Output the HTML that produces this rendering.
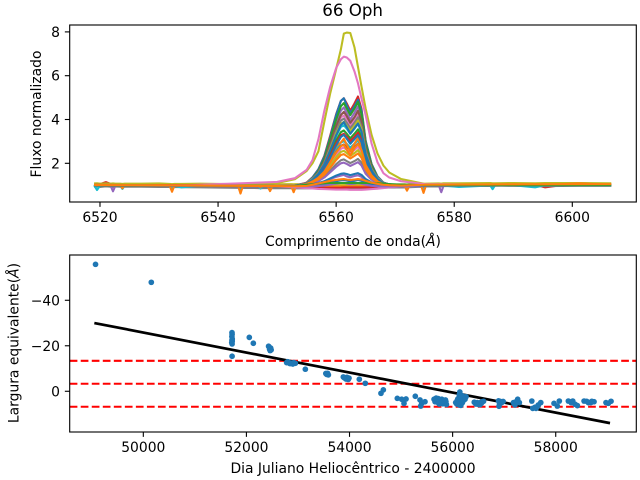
<!DOCTYPE html>
<html lang="pt">
<head>
<meta charset="utf-8">
<title>66 Oph</title>
<style>
html,body{margin:0;padding:0;background:#fff;width:640px;height:480px;overflow:hidden}
svg{display:block}
text{font-family:"DejaVu Sans","Liberation Sans",sans-serif;font-size:13.89px;fill:#000}
</style>
</head>
<body>
<svg id="figure" width="640" height="480" viewBox="0 0 640 480" xmlns="http://www.w3.org/2000/svg">
<defs>
<clipPath id="clip-top"><rect x="69.7" y="25" width="566.6" height="177"/></clipPath>
<clipPath id="clip-bottom"><rect x="69.7" y="255" width="566.6" height="177"/></clipPath>
</defs>
<rect x="0" y="0" width="640" height="480" fill="#fff"/>
<g id="spectra-layer" clip-path="url(#clip-top)"></g>
<g id="width-layer" clip-path="url(#clip-bottom)"></g>
<g id="axes-layer"></g>
<text x="352.6" y="16" text-anchor="middle" style="font-size:16.67px">66 Oph</text>
<text x="353" y="246" text-anchor="middle">Comprimento de onda(<tspan font-style="italic">Å</tspan>)</text>
<text transform="translate(41,114) rotate(-90)" text-anchor="middle">Fluxo normalizado</text>
<text x="353" y="473" text-anchor="middle">Dia Juliano Heliocêntrico - 2400000</text>
<text transform="translate(18.5,343) rotate(-90)" text-anchor="middle">Largura equivalente(<tspan font-style="italic">Å</tspan>)</text>
</svg>
<script>
// ---------- top chart data ----------
const topXTicks = [6520, 6540, 6560, 6580, 6600];
const topYTicks = [2, 4, 6, 8];
const lineWavelengths = [6519,6535,6550,6553,6555,6556,6557,6558,6559,6560,6560.8,6561.3,6561.8,6562.4,6563.1,6563.7,6564.3,6565,6566,6567,6568,6569,6571,6575,6590,6606.6];
const fluxOlivePeak = [1.0,1.0,1.1,1.27,1.65,2.0,2.55,3.9,5.2,6.3,7.2,7.92,7.97,7.95,7.3,6.4,5.5,4.5,3.3,2.45,1.9,1.58,1.28,1.06,1.03,1.02];
const fluxPinkPeak = [1.0,1.0,1.15,1.32,1.7,2.15,3.1,4.4,5.5,6.35,6.75,6.87,6.83,6.68,6.2,5.65,4.95,4.2,2.9,2.05,1.55,1.35,1.18,1.05,1.01,1.0];
const fluxRed505 = [1.0,0.99,0.97,0.98,1.12,1.36,1.73,2.34,3.27,4.24,4.85,4.97,4.73,4.4,4.73,5.05,4.48,3.03,1.97,1.4,1.12,1.04,0.99,1.0,1.01,1.0];
const fluxBlue497 = [1.0,0.98,0.96,0.97,1.1,1.35,1.72,2.3,3.2,4.2,4.85,4.97,4.65,4.3,4.6,4.9,4.4,3.0,1.95,1.4,1.12,1.04,0.98,0.99,1.0,1.01];
const fluxPurple460 = [1.01,0.99,0.97,0.98,1.1,1.3,1.62,2.15,3.0,3.9,4.4,4.55,4.3,4.0,4.3,4.6,4.1,2.8,1.85,1.35,1.1,1.03,0.99,1.0,1.0,1.0];
const fluxBrown440 = [0.99,0.97,0.95,0.96,1.1,1.28,1.6,2.1,2.9,3.7,4.2,4.35,4.15,3.85,4.1,4.4,3.9,2.7,1.8,1.3,1.1,1.03,0.98,0.99,1.0,1.0];
const fluxPink425 = [1.0,0.98,0.96,0.97,1.1,1.29,1.58,2.07,2.82,3.6,4.09,4.18,3.99,3.73,3.99,4.25,3.8,2.63,1.78,1.33,1.1,1.03,0.98,0.99,1.01,1.0];
const fluxGray410 = [0.98,0.97,0.94,0.95,1.09,1.28,1.56,2.02,2.74,3.48,3.95,4.04,3.85,3.6,3.85,4.1,3.67,2.55,1.74,1.31,1.09,1.03,0.97,0.98,0.99,0.99];
const fluxOlive395 = [1.01,0.98,0.96,0.97,1.09,1.27,1.53,1.97,2.65,3.36,3.8,3.89,3.71,3.48,3.71,3.95,3.54,2.48,1.71,1.3,1.09,1.03,0.99,1.0,1.01,1.01];
const fluxCyan380 = [1.0,0.98,0.95,0.96,1.08,1.25,1.5,1.92,2.57,3.24,3.66,3.74,3.58,3.35,3.58,3.8,3.41,2.4,1.67,1.28,1.08,1.03,0.98,0.99,1.0,1.0];
const fluxRed340 = [1.02,0.99,0.96,0.97,1.07,1.22,1.43,1.79,2.34,2.92,3.28,3.35,3.21,3.02,3.21,3.4,3.06,2.2,1.58,1.24,1.07,1.02,0.98,1.0,1.0,1.0];
const fluxCyan305 = [1.0,0.98,0.96,0.96,1.06,1.18,1.37,1.68,2.15,2.64,2.95,3.01,2.89,2.72,2.89,3.05,2.76,2.03,1.49,1.2,1.06,1.02,0.98,0.99,1.0,1.0];
const fluxBrown290 = [0.99,0.97,0.95,0.95,1.06,1.17,1.34,1.63,2.06,2.52,2.8,2.86,2.75,2.6,2.75,2.9,2.63,1.95,1.46,1.19,1.06,1.02,0.97,0.98,0.99,1.0];
const fluxPink275 = [1.0,0.98,0.96,0.96,1.05,1.16,1.32,1.58,1.98,2.4,2.66,2.72,2.61,2.47,2.61,2.75,2.5,1.88,1.42,1.18,1.05,1.02,0.98,0.99,1.0,1.0];
const fluxOlive260 = [1.01,0.98,0.96,0.97,1.05,1.14,1.29,1.53,1.9,2.28,2.52,2.57,2.47,2.34,2.47,2.6,2.38,1.8,1.38,1.16,1.05,1.02,0.98,0.99,1.0,1.0];
const fluxGray220 = [0.99,0.97,0.95,0.95,1.04,1.11,1.22,1.4,1.67,1.96,2.14,2.18,2.1,2.01,2.1,2.2,2.03,1.6,1.29,1.12,1.04,1.01,0.97,0.98,0.99,1.0];
const fluxPurple205 = [1.0,0.98,0.96,0.96,1.03,1.09,1.19,1.35,1.59,1.84,2.0,2.03,1.97,1.88,1.97,2.05,1.9,1.52,1.25,1.1,1.03,1.01,0.98,0.99,1.0,1.0];
const fluxPurple147 = [1.0,0.98,0.95,0.95,0.98,1.02,1.08,1.17,1.28,1.38,1.44,1.47,1.4,1.36,1.42,1.45,1.38,1.2,1.08,1.02,0.98,0.97,0.97,0.99,1.0,1.0];
const fluxBlue155 = [1.0,0.98,0.96,0.96,1.02,1.05,1.1,1.18,1.31,1.44,1.52,1.54,1.51,1.46,1.51,1.55,1.47,1.28,1.13,1.06,1.02,1.0,0.97,0.99,1.0,1.0];
const fluxBlue124 = [1.0,0.98,0.95,0.95,0.96,0.98,1.0,1.05,1.12,1.18,1.22,1.24,1.21,1.18,1.2,1.24,1.2,1.1,1.02,0.98,0.96,0.95,0.96,0.98,1.0,1.0];
const fluxPurple110 = [1.0,0.97,0.95,0.94,0.94,0.95,0.96,0.99,1.03,1.07,1.1,1.11,1.08,1.05,1.07,1.1,1.07,1.02,0.97,0.95,0.94,0.94,0.95,0.98,1.0,1.0];
const fluxRedLow = [1.0,0.97,0.95,0.93,0.91,0.9,0.89,0.88,0.88,0.88,0.89,0.9,0.9,0.9,0.9,0.9,0.9,0.9,0.9,0.91,0.92,0.93,0.95,0.98,1.0,1.0];
const fluxPinkLow = [1.0,0.97,0.94,0.91,0.87,0.85,0.83,0.82,0.81,0.8,0.8,0.8,0.8,0.79,0.79,0.79,0.79,0.8,0.82,0.84,0.87,0.9,0.94,0.98,1.0,1.0];
const fluxGreen480 = [1.0,0.98,0.96,0.97,1.1,1.3,1.65,2.2,3.1,4.0,4.6,4.75,4.5,4.2,4.5,4.8,4.25,2.9,1.9,1.35,1.1,1.04,1.03,1.0,1.0,1.0];
const fluxGreen355 = [1.0,0.98,0.96,0.97,1.07,1.23,1.46,1.84,2.43,3.04,3.42,3.5,3.35,3.14,3.35,3.55,3.19,2.28,1.61,1.26,1.08,1.03,1.0,0.99,1.0,1.0];
const fluxBlue390 = [1.0,0.98,0.96,0.97,1.08,1.25,1.52,1.95,2.6,3.28,3.75,3.88,3.65,3.35,3.6,3.82,3.45,2.42,1.68,1.28,1.08,1.03,0.98,0.99,1.0,1.0];
const fluxBlue330 = [1.0,0.98,0.96,0.96,1.07,1.2,1.4,1.74,2.26,2.82,3.2,3.3,3.12,2.89,3.1,3.28,2.96,2.13,1.54,1.22,1.07,1.02,0.98,0.99,1.0,1.0];
const fluxOrange310 = [1.0,0.98,0.96,0.96,1.06,1.2,1.38,1.7,2.2,2.78,2.95,3.12,2.85,2.55,2.9,3.15,2.8,2.05,1.5,1.2,1.06,1.02,0.98,1.0,1.01,1.01];
const fluxOrange285 = [1.0,0.98,0.96,0.95,1.06,1.17,1.34,1.62,2.05,2.5,2.78,2.84,2.62,2.35,2.7,2.88,2.6,1.92,1.45,1.18,1.05,1.02,0.98,1.0,1.01,1.01];
const fluxOrange245 = [1.0,0.98,0.96,0.95,1.04,1.14,1.27,1.48,1.8,2.15,2.38,2.42,2.33,2.22,2.34,2.45,2.25,1.72,1.34,1.14,1.04,1.01,0.98,1.0,1.01,1.01];
const fluxGreenLow = [1.0,0.98,0.96,0.97,1.02,1.04,1.07,1.09,1.1,1.1,1.1,1.1,1.1,1.1,1.1,1.1,1.1,1.1,1.1,1.09,1.07,1.05,1.02,1.0,1.0,1.0];
const fluxOrangeBase = [1.01,0.99,0.96,0.95,0.97,1.02,1.08,1.14,1.2,1.24,1.27,1.28,1.26,1.24,1.26,1.28,1.26,1.2,1.12,1.06,1.02,1.0,0.98,1.02,1.04,1.05];

const noiseWavelengths = [6519,6519.5,6520,6521,6521.8,6522.2,6522.6,6523.4,6523.8,6524.2,6527,6530,6531.8,6532.2,6532.6,6533.8,6537,6540,6543.4,6543.8,6544.2,6546.8,6547.2,6547.6,6548.4,6548.8,6549.2,6552.4,6552.8,6553.2,6560,6571.6,6572,6572.4,6574.4,6574.8,6575.2,6577.4,6577.8,6578.2,6580.8,6586.1,6586.5,6586.9,6590,6593.7,6595.4,6601,6606.6];
const noiseRed = [1.0,1.03,1.05,1.14,1.06,1.04,1.02,1.03,1.02,1.02,1.05,1.03,1.04,1.02,1.03,1.02,1.04,1.0,1.0,0.98,0.99,0.99,0.97,0.99,0.98,0.96,0.98,0.96,0.94,0.96,0.93,0.98,0.97,0.98,0.99,0.98,1.0,1.02,1.01,1.03,1.03,1.04,1.03,1.05,1.06,1.02,0.9,1.1,1.03];
const noiseGray = [0.93,0.94,0.92,0.95,0.93,0.92,0.94,0.93,0.91,0.93,0.93,0.92,0.92,0.9,0.92,0.91,0.9,0.89,0.88,0.87,0.88,0.87,0.86,0.87,0.87,0.85,0.87,0.86,0.84,0.86,0.85,0.9,0.88,0.91,0.93,0.91,0.94,0.95,0.94,0.96,0.96,0.97,0.96,0.98,0.97,0.96,0.96,0.97,0.97];
const noiseOlive = [1.08,1.09,1.07,1.08,1.07,1.08,1.07,1.07,1.06,1.07,1.07,1.08,1.06,1.05,1.06,1.06,1.07,1.06,1.05,1.04,1.05,1.04,1.04,1.04,1.04,1.03,1.04,1.05,1.04,1.05,1.0,1.04,1.03,1.05,1.07,1.06,1.07,1.08,1.07,1.09,1.09,1.1,1.09,1.09,1.1,1.09,1.1,1.1,1.09];
const noisePurple = [1.0,0.98,1.0,1.0,0.98,0.72,0.97,1.0,0.99,1.0,1.0,0.98,0.98,0.97,0.98,0.97,0.97,0.96,0.96,0.95,0.96,0.95,0.95,0.95,0.95,0.94,0.95,0.94,0.92,0.94,0.92,0.95,0.94,0.95,0.96,0.95,0.97,0.98,0.68,0.98,0.99,1.0,0.99,1.0,1.0,1.0,1.0,1.01,1.0];
const noiseCyan = [1.0,0.78,0.98,1.0,1.0,1.0,1.0,0.99,0.83,0.99,1.0,0.99,0.98,0.8,0.97,0.9,0.98,0.97,0.96,0.75,0.96,0.95,0.85,0.95,0.95,0.78,0.95,0.94,0.75,0.94,0.93,0.95,0.8,0.95,0.97,0.73,0.97,0.98,0.98,0.98,0.92,0.99,0.82,0.99,1.0,0.9,1.0,1.01,1.0];
const noiseOrange = [1.0,0.98,1.0,1.0,1.0,1.0,1.0,1.0,0.86,1.0,1.0,0.99,0.98,0.7,0.98,0.97,0.98,0.97,0.96,0.62,0.96,0.96,0.9,0.96,0.95,0.73,0.95,0.95,0.68,0.95,0.94,0.96,0.75,0.96,0.98,0.65,0.98,0.99,0.99,0.99,1.0,1.0,0.98,1.0,1.01,1.0,1.01,1.08,1.02];

const noiseSeries = [noiseRed, noiseGray, noiseOlive, noisePurple, noiseCyan, noiseOrange];
const noiseColors = ['#d62728','#7f7f7f','#bcbd22','#9467bd','#17becf','#ff7f0e'];
const spectraSeries = [fluxRedLow, fluxPinkLow, fluxOlivePeak, fluxPinkPeak, fluxRed505, fluxBlue497, fluxPurple460, fluxGreen480, fluxPink425, fluxBrown440, fluxGray410, fluxOlive395, fluxCyan380, fluxGreen355, fluxRed340, fluxCyan305, fluxBrown290, fluxPink275, fluxOlive260, fluxBlue390, fluxOrange310, fluxBlue330, fluxGray220, fluxPurple205, fluxOrange285, fluxOrange245, fluxPurple147, fluxBlue155, fluxBlue124, fluxPurple110, fluxGreenLow, fluxOrangeBase];
const spectraColors = ['#d62728','#e377c2','#bcbd22','#e377c2','#d62728','#1f77b4','#9467bd','#2ca02c','#e377c2','#8c564b','#7f7f7f','#bcbd22','#17becf','#2ca02c','#d62728','#17becf','#8c564b','#e377c2','#bcbd22','#1f77b4','#ff7f0e','#1f77b4','#7f7f7f','#9467bd','#ff7f0e','#ff7f0e','#9467bd','#1f77b4','#1f77b4','#9467bd','#2ca02c','#ff7f0e'];

// ---------- bottom chart data ----------
const bottomXTicks = [50000, 52000, 54000, 56000, 58000];
const bottomYTicks = [-40, -20, 0];
const thresholdLevels = [-13.4, -3.3, 6.8];
const fitDays = [49050, 59053];
const fitWidths = [-30, 14];
const pointDays = [49073,50155,51720,51722,51718,51725,51720,51724,51716,51722,51722,52056,52134,52440,52470,52450,52480,52460,52430,52780,52810,52840,52870,52900,52950,53143,53540,53560,53590,53880,53920,53960,53990,53930,54190,54306,54610,54656,54927,55012,55096,55057,55276,55367,55400,55464,55381,55640,55680,55700,55720,55750,55770,55790,55810,55830,55850,55870,55880,55740,56140,56130,56150,56120,56170,56200,56230,56260,56090,56110,56140,56170,56080,56130,56160,56190,56210,56100,56420,56450,56480,56510,56540,56570,56600,56530,56890,56920,56950,56900,56980,56910,57180,57210,57262,57294,57536,57554,57618,57663,57710,57967,58031,58070,58245,58330,58375,58420,58550,58633,58680,58743,58975,59020,59073,52800,52860,52920,53550,53575,53900,53950,53975,55660,55720,55800,55860,56060,56240,56190,56150,56100,56560,56480,57230,57600,57640,58300,58600,58700];
const pointWidths = [-55.8,-47.9,-25.8,-25,-24,-23,-22.5,-22,-21.4,-20.8,-15.4,-23.7,-21.1,-19.5,-19,-18.5,-18.2,-17.9,-19.8,-12.6,-12.9,-12.2,-12.4,-12,-12.3,-9.7,-7.8,-7.4,-7.2,-6.3,-5.9,-5.5,-5.8,-5.4,-5.3,-3.5,0.9,-0.6,3.1,3.5,3.4,5.3,2.2,3.8,5.3,4.6,6.5,3.5,3,4.5,3.2,4,5,3.5,5.5,4.2,5,4.6,5.8,5.6,0.3,1.5,2.5,3,3.5,3,2.6,2.4,4,4.5,5,4.5,5.6,6,6.2,5,4,3.4,4.8,5.6,5,5.8,5,4.6,4.4,5.9,4.2,4.4,5,6.6,4.5,5.5,5,6,3.5,5,4.3,7.5,7.5,6,5,5.3,6.5,4.3,4.3,4.3,5.7,6.3,4.3,5,5,4.6,5,5.3,4.4,-13,-12.2,-12.6,-7.6,-7.9,-5.9,-6.1,-5.2,4.6,5,4.6,3.8,5,3.5,2,1.8,5.4,5.2,5.6,4.6,7,6.8,5,4.4,4.4];

// ---------- axis functions ----------
const plotLeft = 69.7, plotRight = 636.3;
const topPlotTop = 25, topPlotBottom = 202;
const bottomPlotTop = 255, bottomPlotBottom = 432;
const topXMin = 6514.87, topXMax = 6610.84, topYMin = 0.233, topYMax = 8.315;
const bottomXMin = 48572, bottomXMax = 59563, bottomYTopValue = -59.9, bottomYBottomValue = 17.9;

function topX(v){ return plotLeft + (v - topXMin) / (topXMax - topXMin) * (plotRight - plotLeft); }
function topY(v){ return topPlotBottom - (v - topYMin) / (topYMax - topYMin) * (topPlotBottom - topPlotTop); }
function bottomX(v){ return plotLeft + (v - bottomXMin) / (bottomXMax - bottomXMin) * (plotRight - plotLeft); }
function bottomY(v){ return bottomPlotTop + (v - bottomYTopValue) / (bottomYBottomValue - bottomYTopValue) * (bottomPlotBottom - bottomPlotTop); }

const svgNS = 'http://www.w3.org/2000/svg';
function make(parent, tag, props){
  const el = document.createElementNS(svgNS, tag);
  for (const k in props) el.setAttribute(k, props[k]);
  parent.appendChild(el);
  return el;
}
function pointsFrom(xs, ys, fx, fy){
  return xs.map((x, i) => fx(x).toFixed(2) + ',' + fy(ys[i]).toFixed(2)).join(' ');
}

// ---------- draw spectra ----------
const spectraLayer = document.getElementById('spectra-layer');
noiseSeries.forEach((series, i) => {
  const line = make(spectraLayer, 'polyline', {points: pointsFrom(noiseWavelengths, series, topX, topY), fill: 'none', stroke: noiseColors[i], 'stroke-width': 2.08, 'stroke-linejoin': 'round'});
  
  
});
spectraSeries.forEach((series, i) => {
  const line = make(spectraLayer, 'polyline', {points: pointsFrom(lineWavelengths, series, topX, topY), fill: 'none', stroke: spectraColors[i], 'stroke-width': 2.08, 'stroke-linejoin': 'round'});
  
  
});

// ---------- draw bottom chart ----------
const widthLayer = document.getElementById('width-layer');
thresholdLevels.forEach((level) => {
  const rule = make(widthLayer, 'line', {x1: plotLeft, x2: plotRight, y1: bottomY(level), y2: bottomY(level), stroke: '#ff0000', 'stroke-width': 2.08, 'stroke-dasharray': '7.7 3.33'});
  
  
});
const fitLine = make(widthLayer, 'polyline', {points: pointsFrom(fitDays, fitWidths, bottomX, bottomY), fill: 'none', stroke: '#000', 'stroke-width': 2.7});


pointDays.forEach((day, i) => {
  const dot = make(widthLayer, 'circle', {cx: bottomX(day).toFixed(2), cy: bottomY(pointWidths[i]).toFixed(2), r: 2.85, fill: '#1f77b4'});
  
  
});

// ---------- draw axes ----------
const axesLayer = document.getElementById('axes-layer');
const tickLen = 4.86, tickPad = 4.86, axisStroke = 1.11;
function formatTick(v){ return v < 0 ? '\u2212' + Math.abs(v) : String(v); }

function drawFrame(top, bottom, name){
  const frame = make(axesLayer, 'rect', {x: plotLeft, y: top, width: plotRight - plotLeft, height: bottom - top, fill: 'none', stroke: '#000', 'stroke-width': axisStroke});
  
  
}
function drawXTicks(values, fx, bottom){
  values.forEach((v) => {
    const x = fx(v);
    const tick = make(axesLayer, 'line', {x1: x, x2: x, y1: bottom, y2: bottom + tickLen, stroke: '#000', 'stroke-width': axisStroke});
    
    
    const label = make(axesLayer, 'text', {x: x, y: bottom + tickLen + tickPad + 10.4, 'text-anchor': 'middle'});
    label.textContent = formatTick(v);
    
    
  });
}
function drawYTicks(values, fy){
  values.forEach((v) => {
    const y = fy(v);
    const tick = make(axesLayer, 'line', {x1: plotLeft - tickLen, x2: plotLeft, y1: y, y2: y, stroke: '#000', 'stroke-width': axisStroke});
    
    
    const label = make(axesLayer, 'text', {x: plotLeft - tickLen - tickPad, y: y + 5.05, 'text-anchor': 'end'});
    label.textContent = formatTick(v);
    
    
  });
}
drawFrame(topPlotTop, topPlotBottom, 'top-axes-frame');
drawFrame(bottomPlotTop, bottomPlotBottom, 'bottom-axes-frame');
drawXTicks(topXTicks, topX, topPlotBottom);
drawYTicks(topYTicks, topY);
drawXTicks(bottomXTicks, bottomX, bottomPlotBottom);
drawYTicks(bottomYTicks, bottomY);
</script>
</body>
</html>
